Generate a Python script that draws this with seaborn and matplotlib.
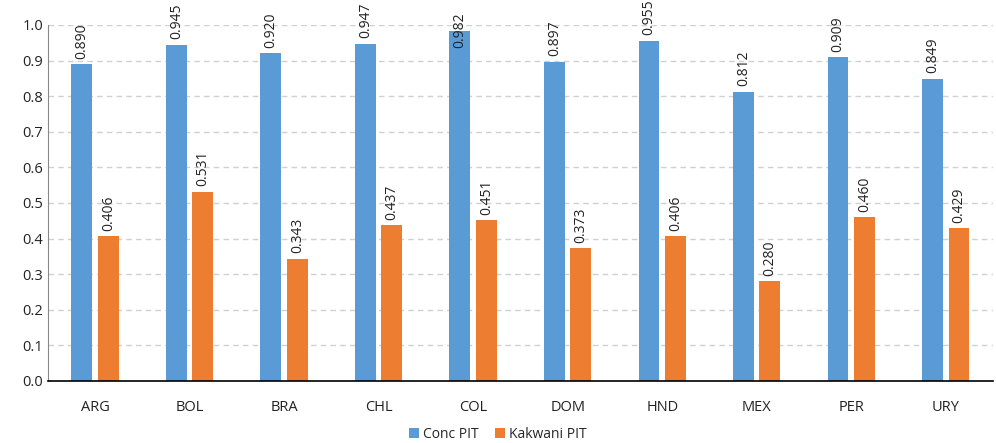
import pandas as pd
import numpy as np
import matplotlib.pyplot as plt
import seaborn as sns

countries = ["ARG", "BOL", "BRA", "CHL", "COL", "DOM", "HND", "MEX", "PER", "URY"]
conc_pit = [0.890, 0.945, 0.920, 0.947, 0.982, 0.897, 0.955, 0.812, 0.909, 0.849]
kakwani_pit = [0.406, 0.531, 0.343, 0.437, 0.451, 0.373, 0.406, 0.280, 0.460, 0.429]
series = ["Conc PIT", "Kakwani PIT"]
colors = ["#5B9BD5", "#ED7D31"]

df = pd.DataFrame({
    "country": countries * 2,
    "value": conc_pit + kakwani_pit,
    "series": [series[0]] * len(countries) + [series[1]] * len(countries),
})

sns.set_style("white")
plt.rcParams['font.family'] = ['Open Sans', 'DejaVu Sans']

fig = plt.figure(figsize=(9.96, 4.43), dpi=100)
ax = fig.add_axes([0.048, 0.14, 0.949, 0.8036])

sns.barplot(data=df, x="country", y="value", hue="series", palette=colors,
            width=0.56, gap=0.21, saturation=1, linewidth=0, ax=ax, legend=True)

for cont in ax.containers:
    labels = ax.bar_label(cont, fmt="%.3f", rotation=90, padding=4, fontsize=10, color="#222222")
    for t, rect in zip(labels, cont):
        t.set_clip_on(False)
        # 너무 높은 막대는 라벨을 막대 안쪽으로 내림 (엑셀처럼)
        if rect.get_height() > 0.97:
            t.xyann = (0, -12)

ax.set_ylim(0, 1.0)
ax.set_yticks(np.arange(0, 1.01, 0.1))
ax.set_yticklabels([f"{v:.1f}" for v in np.arange(0, 1.01, 0.1)])
ax.set_xlim(-0.5, len(countries) - 0.5)
ax.yaxis.grid(True, linestyle=(0, (4, 3)), color="#d0d0d0", linewidth=1)
ax.set_axisbelow(True)
ax.set_xlabel("")
ax.set_ylabel("")
for s in ["top", "right"]:
    ax.spines[s].set_visible(False)
ax.spines["left"].set_color("#888888")
ax.spines["bottom"].set_color("#000000")
ax.spines["bottom"].set_linewidth(1.2)
ax.tick_params(axis="both", length=0, labelsize=10.5, colors="#222222")
ax.tick_params(axis="x", pad=14)

ax.legend(loc="lower center", bbox_to_anchor=(0.5, 0.002), bbox_transform=fig.transFigure,
          ncol=2, frameon=False, fontsize=10, handlelength=0.7, handleheight=0.7,
          handletextpad=0.3, columnspacing=1.2, borderaxespad=0, borderpad=0)

fig.savefig("out.png", dpi=100)
